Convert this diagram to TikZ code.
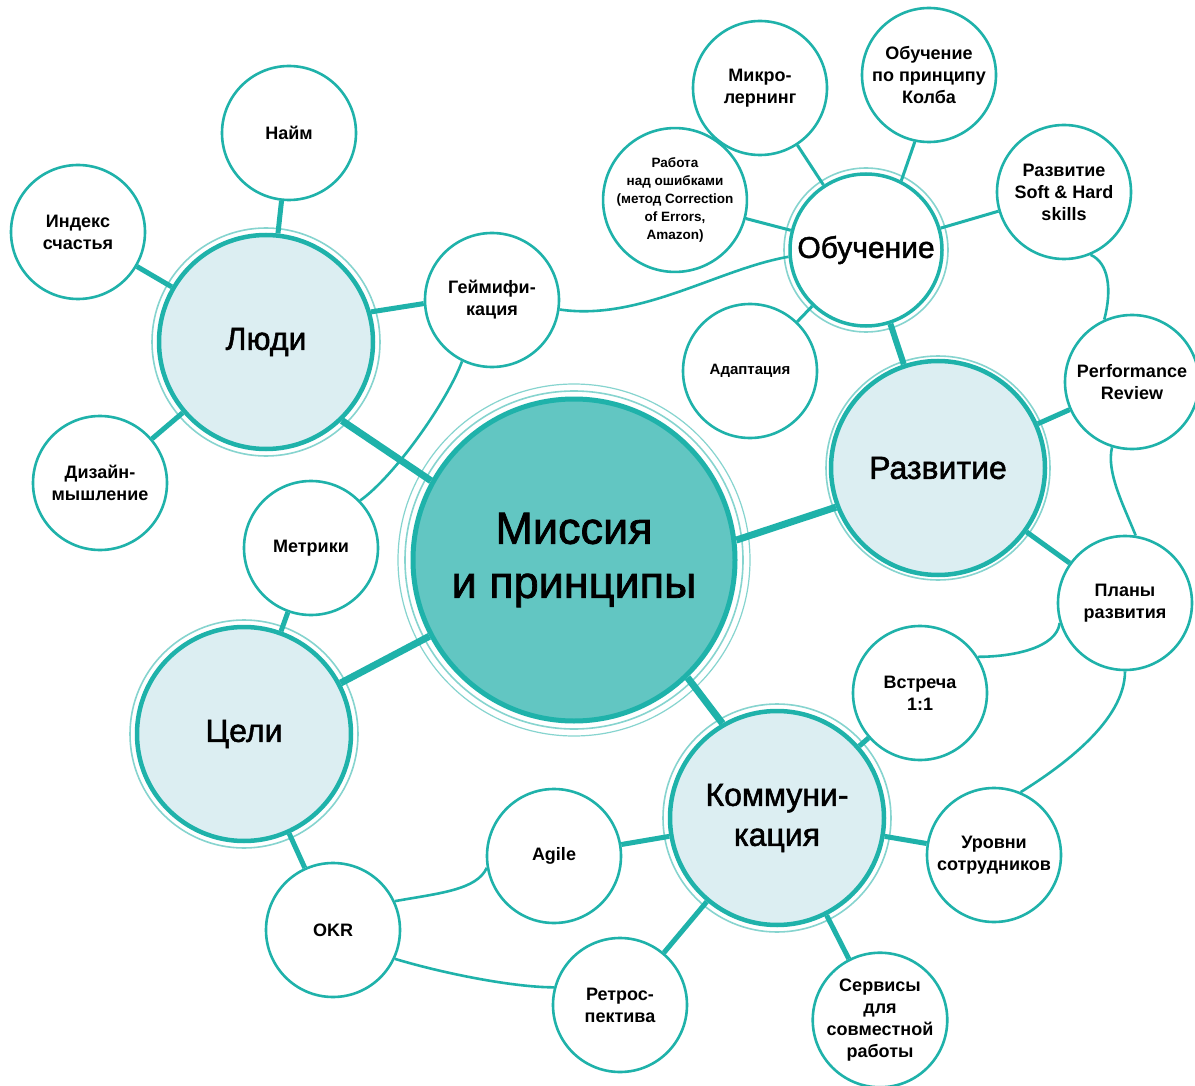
\documentclass[tikz,border=0pt]{standalone}
\usepackage{fontspec}
\setmainfont{Liberation Sans}
\newfontfamily\hubfont{Liberation Sans}[FakeBold=1.6]
\definecolor{tealA}{HTML}{1FB2AA}
\definecolor{ringc}{HTML}{86D4CF}
\definecolor{midfill}{HTML}{62C6C2}
\definecolor{lightfill}{HTML}{DCEEF2}
\begin{document}
\begin{tikzpicture}[x=1pt,y=-1pt,
  leaf/.style={circle,draw=tealA,line width=2.6pt,fill=white,minimum size=134pt,inner sep=0pt,align=center,
    font=\bfseries\fontsize{18}{22}\selectfont},
  hub/.style={circle,draw=tealA,line width=4.5pt,fill=lightfill,minimum size=214pt,inner sep=0pt,align=center,
    font=\hubfont\fontsize{32}{40}\selectfont},
  core/.style={circle,draw=tealA,line width=5pt,fill=midfill,minimum size=322pt,inner sep=0pt,align=center,
    font=\hubfont\fontsize{45}{54}\selectfont},
  subhub/.style={circle,draw=tealA,line width=3.5pt,fill=white,minimum size=152pt,inner sep=0pt,align=center,
    font=\hubfont\fontsize{30}{36}\selectfont},
  ringline/.style={draw=ringc,line width=1.6pt},
  spokeA/.style={draw=tealA,line width=7pt},
  spokeB/.style={draw=tealA,line width=5pt},
  spokeC/.style={draw=tealA,line width=3pt},
  link/.style={draw=tealA,line width=2.6pt},
]
\fill[white] (0,0) rectangle (1195,1086);
\useasboundingbox (0,0) rectangle (1195,1086);

% main nodes
\node[core] (mis) at (574,560) {Миссия\\и принципы};
\node[hub] (lju) at (266,342) {Люди};
\node[hub] (raz) at (938,468) {Развитие};
\node[hub] (cel) at (244,734) {Цели};
\node[hub] (kom) at (777,818) {Коммуни-\\кация};
\node[subhub] (obu) at (866,250) {Обучение};

% leaves
\node[leaf] (naj) at (289,133) {Найм};
\node[leaf] (ind) at (78,232) {Индекс\\счастья};
\node[leaf] (diz) at (100,483) {Дизайн-\\мышление};
\node[leaf] (gam) at (492,300) {Геймифи-\\кация};
\node[leaf] (met) at (311,548) {Метрики};
\node[leaf] (mik) at (760,88) {Микро-\\лернинг};
\node[leaf] (kol) at (929,75) {Обучение\\по принципу\\Колба};
\node[leaf,font=\bfseries\fontsize{13.5}{18}\selectfont] (rab) at (675,200) {Работа\\над ошибками\\(метод Correction\\of Errors,\\Amazon)};
\node[leaf] (sof) at (1064,192) {Развитие\\Soft \& Hard\\skills};
\node[leaf,font=\bfseries\fontsize{15}{18}\selectfont] (ada) at (750,371) {Адаптация};
\node[leaf] (per) at (1132,382) {Performance\\Review};
\node[leaf] (pla) at (1125,603) {Планы\\развития};
\node[leaf] (vst) at (920,693) {Встреча\\1:1};
\node[leaf] (uro) at (994,855) {Уровни\\сотрудников};
\node[leaf] (ser) at (880,1020) {Сервисы\\для\\совместной\\работы};
\node[leaf] (ret) at (620,1005) {Ретрос-\\пектива};
\node[leaf] (agi) at (554,856) {Agile};
\node[leaf] (okr) at (333,930) {OKR};

% rings
\draw[ringline] (mis.center) circle (169pt);
\draw[ringline,line width=1.2pt] (mis.center) circle (176pt);
\draw[ringline] (lju.center) circle (114pt);
\draw[ringline] (raz.center) circle (112pt);
\draw[ringline] (cel.center) circle (114pt);
\draw[ringline] (kom.center) circle (114pt);
\draw[ringline] (obu.center) circle (82pt);

% spokes to the core
\draw[spokeA] (lju.-46) -- (mis.151);
\draw[spokeA] (mis.7) -- (raz.-159);
\draw[spokeA] (cel) -- (mis);
\draw[spokeA] (mis.-46) -- (kom.120);
\draw[draw=tealA,line width=6pt] (obu) -- (raz);

% hub spokes
\draw[spokeB] (lju) -- (naj);
\draw[spokeB] (lju) -- (ind);
\draw[spokeB] (lju) -- (diz);
\draw[spokeB] (lju.16) -- (gam.183);
\draw[spokeB] (raz) -- (per);
\draw[spokeB] (raz) -- (pla);
\draw[spokeB] (cel) -- (met);
\draw[spokeB] (cel) -- (okr);
\draw[spokeB] (kom) -- (agi);
\draw[spokeB] (kom) -- (ret);
\draw[spokeB] (kom) -- (ser);
\draw[spokeB] (kom) -- (uro);
\draw[spokeB] (kom) -- (vst);

% Обучение spokes
\draw[spokeC] (obu) -- (mik);
\draw[spokeC] (kol.-102) -- (obu.63);
\draw[spokeC] (obu) -- (rab);
\draw[spokeC] (obu) -- (sof);
\draw[spokeC] (obu) -- (ada);

% curved links
\draw[link] (gam.-8) .. controls +(80,12) and +(-70,12) .. (obu.185);
\draw[link] (gam.-116) .. controls +(-15,40) and +(35,-25) .. (met.44);
\draw[link] (sof.-67) .. controls +(18,8) and +(8,-30) .. (per.114);
\draw[link] (per.-107) .. controls +(-6,25) and +(-12,-30) .. (pla.81);
\draw[link] (pla.-163) .. controls +(-3,25) and +(35,0) .. (vst.32);
\draw[link] (pla.-90) .. controls +(0,50) and +(40,-25) .. (uro.67);
\draw[link] (okr.25) .. controls +(45,-8) and +(-10,22) .. (agi.-170);
\draw[link] (okr.-25) .. controls +(50,15) and +(-40,0) .. (ret.165);
\end{tikzpicture}
\end{document}
